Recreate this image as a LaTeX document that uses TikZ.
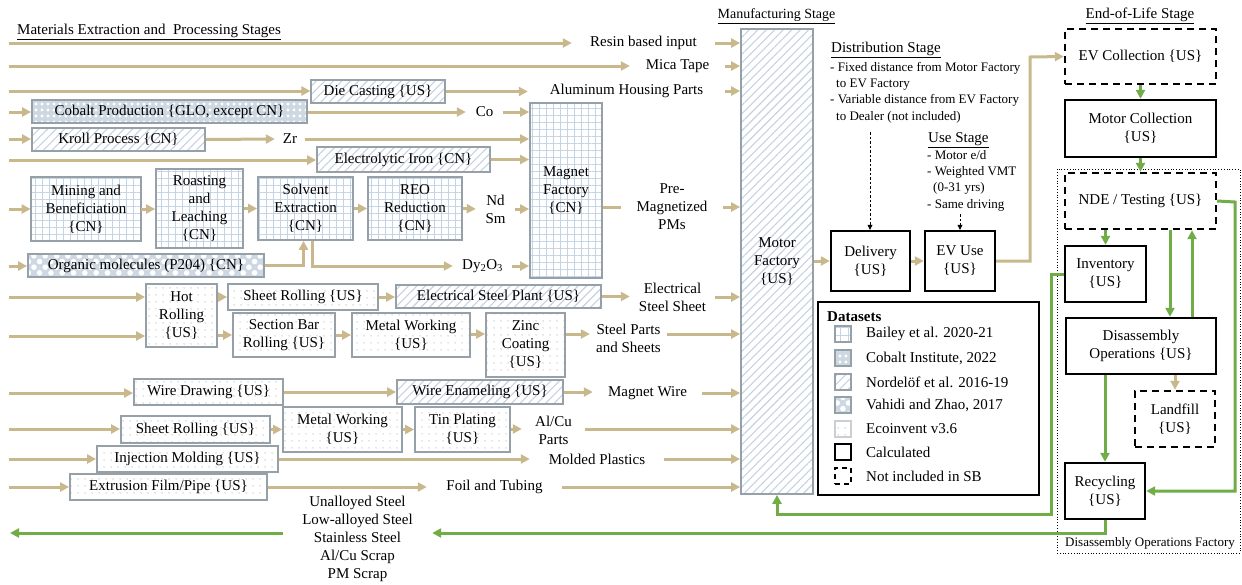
\documentclass[tikz,border=0pt]{standalone}
\usepackage{fontspec}
\setmainfont{Liberation Serif}
\usetikzlibrary{arrows.meta,patterns.meta,calc}
\definecolor{tanc}{RGB}{201,184,140}
\definecolor{grn}{RGB}{112,173,71}
\definecolor{bgray}{RGB}{150,160,168}
\definecolor{hatchc}{RGB}{196,210,224}
\definecolor{gridc}{RGB}{196,212,228}
\definecolor{dotc}{RGB}{150,150,150}
\definecolor{cobbg}{RGB}{206,216,226}
\tikzset{
  base/.style={font=\fontsize{15}{18}\selectfont, align=center, inner sep=0pt},
  small/.style={font=\fontsize{13}{16.3}\selectfont, inner sep=0pt},
  gbox/.style={base, draw=bgray, line width=1.8pt},
  hatchbox/.style={gbox, pattern={Lines[angle=45,distance=6pt,line width=1.1pt]}, pattern color=hatchc},
  gridbox/.style={gbox, pattern={Hatch[angle=0,distance=7pt,line width=0.7pt]}, pattern color=gridc},
  dotbox/.style={gbox, pattern={Dots[distance=6.5pt,radius=0.6pt]}, pattern color=dotc},
  cobbox/.style={gbox, preaction={fill=cobbg}, pattern={Dots[distance=6pt,radius=1.7pt]}, pattern color=white},
  vahbox/.style={gbox, preaction={fill=cobbg}, pattern={Dots[distance=8pt,radius=2.8pt,angle=45]}, pattern color=white},
  calcbox/.style={base, draw=black, line width=2.4pt},
  nibox/.style={base, draw=black, line width=2.4pt, dash pattern=on 7pt off 5pt},
  lbl/.style={base},
  tarr/.style={draw=tanc, line width=3pt, -{Triangle[length=9pt,width=9pt]}},
  tline/.style={draw=tanc, line width=3pt},
  garr/.style={draw=grn, line width=3pt, -{Triangle[length=9pt,width=9pt]}},
  gline/.style={draw=grn, line width=3pt},
  darr/.style={draw=black, line width=0.7pt, dash pattern=on 2.5pt off 2pt, -{Triangle[length=5pt,width=5pt]}},
  icon/.style={minimum width=16pt, minimum height=16pt, line width=1.5pt},
}
\begin{document}
\begin{tikzpicture}[x=1pt,y=-1pt]
\useasboundingbox (0,0) rectangle (1242,584);

% headers
\node[base, anchor=west] (h1) at (17,32) {\underline{Materials Extraction and\ \ Processing Stages}};
\node[base, font=\fontsize{14}{16}\selectfont] (h2) at (776.5,16) {\underline{Manufacturing Stage}};
\node[base] (h3) at (1140,16) {\underline{End-of-Life Stage}};

% left start coordinates
\coordinate (s1) at (9,43);
\coordinate (s2) at (9,66);
\coordinate (s3) at (9,91);
\coordinate (s4) at (9,112);
\coordinate (s5) at (9,139);
\coordinate (s6) at (9,160);
\coordinate (s7) at (9,209);
\coordinate (s8) at (9,266);
\coordinate (s9) at (9,297);
\coordinate (s10) at (9,336);
\coordinate (s11) at (9,393);
\coordinate (s12) at (9,429);
\coordinate (s13) at (9,459);
\coordinate (s14) at (9,487);
\coordinate (scrapend) at (10,533);

% boxes
\node[hatchbox, minimum width=134, minimum height=23] (diecast) at (378,91.5) {Die Casting \{US\}};
\node[cobbox, minimum width=275, minimum height=23] (cobalt) at (169.5,111.5) {Cobalt Production \{GLO, except CN\}};
\node[hatchbox, minimum width=173, minimum height=23] (kroll) at (118.5,139.5) {Kroll Process \{CN\}};
\node[hatchbox, minimum width=173, minimum height=25] (eleciron) at (403.5,159.5) {Electrolytic Iron \{CN\}};
\node[gridbox, minimum width=110, minimum height=64] (mining) at (86,209) {Mining and\\Beneficiation\\\{CN\}};
\node[gridbox, minimum width=87, minimum height=79] (roast) at (199.5,208.5) {Roasting\\and\\Leaching\\\{CN\}};
\node[gridbox, minimum width=95, minimum height=63] (solvent) at (305.5,208.5) {Solvent\\Extraction\\\{CN\}};
\node[gridbox, minimum width=94, minimum height=63] (reo) at (415,208.5) {REO\\Reduction\\\{CN\}};
\node[gridbox, minimum width=72, minimum height=175] (magnet) at (566,190.5) {Magnet\\Factory\\\{CN\}};
\node[vahbox, minimum width=236, minimum height=23] (organic) at (146,265.5) {Organic molecules (P204) \{CN\}};
\node[hatchbox, minimum width=72, minimum height=465] (motor) at (777,261.5) {Motor\\Factory\\\{US\}};
\node[dotbox, minimum width=71, minimum height=63] (hot) at (181.5,315.5) {Hot\\Rolling\\\{US\}};
\node[dotbox, minimum width=150, minimum height=26] (sheet1) at (303,297) {Sheet Rolling \{US\}};
\node[hatchbox, minimum width=205, minimum height=23] (elecsteel) at (498.5,296.5) {Electrical Steel Plant \{US\}};
\node[dotbox, minimum width=102, minimum height=44] (section) at (284,335) {Section Bar\\Rolling \{US\}};
\node[dotbox, minimum width=118, minimum height=44] (metal1) at (411,335) {Metal Working\\\{US\}};
\node[dotbox, minimum width=79, minimum height=64] (zinc) at (525.5,345) {Zinc\\Coating\\\{US\}};
\node[dotbox, minimum width=149, minimum height=26] (wiredraw) at (208.5,392) {Wire Drawing \{US\}};
\node[hatchbox, minimum width=166, minimum height=24] (wireenam) at (480,392) {Wire Enameling \{US\}};
\node[dotbox, minimum width=149, minimum height=27] (sheet2) at (195.5,429.5) {Sheet Rolling \{US\}};
\node[dotbox, minimum width=119, minimum height=45] (metal2) at (342.5,429.5) {Metal Working\\\{US\}};
\node[dotbox, minimum width=95, minimum height=45] (tin) at (462.5,429.5) {Tin Plating\\\{US\}};
\node[dotbox, minimum width=181, minimum height=26] (inject) at (187.5,459) {Injection Molding \{US\}};
\node[dotbox, minimum width=197, minimum height=26] (extr) at (168.5,487) {Extrusion Film/Pipe \{US\}};

% intermediate labels
\node[lbl, minimum width=143] (resin) at (643.5,43) {Resin based input};
\node[lbl, minimum width=95] (mica) at (677.5,66) {Mica Tape};
\node[lbl, minimum width=197] (alh) at (626.5,91) {Aluminum Housing Parts};
\node[lbl, minimum width=37] (co) at (484.5,112) {Co};
\node[lbl, minimum width=30] (zr) at (290,139) {Zr};
\node[lbl, minimum width=39] (ndsm) at (495.5,209) {Nd\\Sm};
\node[lbl, minimum width=59] (dy) at (482.5,266) {Dy\textsubscript{2}O\textsubscript{3}};
\node[lbl, minimum width=102] (premag) at (672,207) {Pre-\\Magnetized\\PMs};
\node[lbl, minimum width=85] (elecsheet) at (672.5,297) {Electrical\\Steel Sheet};
\node[lbl, minimum width=77] (steelp) at (628.5,338) {Steel Parts\\and Sheets};
\node[lbl, minimum width=109] (magwire) at (647.5,393) {Magnet Wire};
\node[lbl, minimum width=63] (alcu) at (553.5,430) {Al/Cu\\Parts};
\node[lbl, minimum width=134] (molded) at (597,459) {Molded Plastics};
\node[lbl, minimum width=135] (foil) at (494.5,487) {Foil and Tubing};
\node[lbl, minimum width=149] (scrap) at (357.5,538.5) {Unalloyed Steel\\Low-alloyed Steel\\Stainless Steel\\Al/Cu Scrap\\PM Scrap};
\coordinate (spw) at ([yshift=4pt]steelp.west);
\coordinate (spe) at ([yshift=4pt]steelp.east);
\coordinate (scrapE) at ([yshift=5.5pt]scrap.east);
\coordinate (scrapW) at ([yshift=5.5pt]scrap.west);

% tan flows - left part
\draw[tarr] (s1) -- (resin.west);
\draw[tarr] (resin.east) -- (resin.east -| motor.west);
\draw[tarr] (s2) -- (mica.west);
\draw[tarr] (mica.east) -- (mica.east -| motor.west);
\draw[tarr] (s3) -- (s3 -| diecast.west);
\draw[tarr] (diecast.east) -- (diecast.east -| alh.west);
\draw[tarr] (alh.east) -- (alh.east -| motor.west);
\draw[tarr] (s4) -- (s4 -| cobalt.west);
\draw[tarr] (cobalt.east |- co.west) -- (co.west);
\draw[tarr] (co.east) -- (co.east -| magnet.west);
\draw[tarr] (s5) -- (s5 -| kroll.west);
\draw[tarr] (kroll.east) -- (zr.west);
\draw[tarr] (zr.east) -- (zr.east -| magnet.west);
\draw[tarr] (s6) -- (s6 -| eleciron.west);
\draw[tarr] (eleciron.east) -- (eleciron.east -| magnet.west);
\draw[tarr] (s7) -- (s7 -| mining.west);
\draw[tarr] (mining.east) -- (mining.east -| roast.west);
\draw[tarr] (roast.east) -- (roast.east -| solvent.west);
\draw[tarr] (solvent.east) -- (reo.west);
\draw[tarr] (reo.east) -- (ndsm.west);
\draw[tarr] (ndsm.east) -- (ndsm.east -| magnet.west);
\draw[tarr] (s8) -- (s8 -| organic.west);
\draw[tarr] (organic.east) -| ([xshift=-2pt]solvent.south);
\draw[tarr] ([xshift=7pt]solvent.south) |- (dy.west);
\draw[tarr] (dy.east) -- (dy.east -| magnet.west);
\draw[tline] (magnet.east |- premag.west) -- (premag.west);
\draw[tarr] (premag.east) -- (premag.east -| motor.west);
\draw[tarr] (s9) -- (s9 -| hot.west);
\draw[tarr] (s10) -- (s10 -| hot.west);
\draw[tarr] (hot.east |- sheet1.west) -- (sheet1.west);
\draw[tarr] (hot.east |- section.west) -- (section.west);
\draw[tarr] (sheet1.east) -- (sheet1.east -| elecsteel.west);
\draw[tarr] (elecsteel.east) -- (elecsteel.east -| elecsheet.west);
\draw[tarr] (elecsheet.east) -- (elecsheet.east -| motor.west);
\draw[tarr] (section.east) -- (metal1.west);
\draw[tarr] (metal1.east |- spw) -- (spw -| zinc.west);
\draw[tarr] (zinc.east |- spw) -- (spw);
\draw[tarr] (spe) -- (spe -| motor.west);
\draw[tarr] (s11) -- (s11 -| wiredraw.west);
\draw[tarr] (wiredraw.east) -- (wireenam.west);
\draw[tarr] (wireenam.east) -- (wireenam.east -| magwire.west);
\draw[tarr] (magwire.east) -- (magwire.east -| motor.west);
\draw[tarr] (s12) -- (s12 -| sheet2.west);
\draw[tarr] (sheet2.east) -- (sheet2.east -| metal2.west);
\draw[tarr] (metal2.east) -- (tin.west);
\draw[tarr] (tin.east |- s12) -- (s12 -| alcu.west);
\draw[tarr] (s12 -| alcu.east) -- (s12 -| motor.west);
\draw[tarr] (s13) -- (s13 -| inject.west);
\draw[tarr] (inject.east) -- (inject.east -| molded.west);
\draw[tarr] (molded.east) -- (molded.east -| motor.west);
\draw[tarr] (s14) -- (s14 -| extr.west);
\draw[tarr] (extr.east) -- (extr.east -| foil.west);
\draw[tarr] (foil.east) -- (foil.east -| motor.west);

% distribution and use
\node[base, anchor=west] (dist) at (831,50) {\underline{Distribution Stage}};
\node[small, anchor=north west, align=left] (distb) at (830,62) {- Fixed distance from Motor Factory\\\hspace*{6pt}to EV Factory\\- Variable distance from EV Factory\\\hspace*{6pt}to Dealer (not included)};
\node[base, anchor=west] (use) at (928,140) {\underline{Use Stage}};
\node[small, anchor=north west, align=left] (useb) at (927,150) {- Motor e/d\\- Weighted VMT\\\hspace*{6pt}(0-31 yrs)\\- Same driving};
\node[calcbox, minimum width=79, minimum height=60] (delivery) at (870.5,261) {Delivery\\\{US\}};
\node[calcbox, minimum width=70, minimum height=60] (evuse) at (960,261) {EV Use\\\{US\}};
\coordinate (dd1) at (870,132);
\coordinate (dd2) at (960,214);
\draw[darr] (dd1) -- (dd1 |- delivery.north);
\draw[darr] (dd2) -- (dd2 |- evuse.north);
\draw[tarr] (motor.east |- delivery.west) -- (delivery.west);
\draw[tarr] (delivery.east) -- (evuse.west);

% end of life
\node[draw, dotted, line width=0.8pt, minimum width=183, minimum height=384, inner sep=0pt] (daf) at (1148.5,361) {};
\node[small, anchor=west] (daflbl) at (1065,543) {Disassembly Operations Factory};
\node[nibox, minimum width=151, minimum height=55] (evcoll) at (1140.5,56.5) {EV Collection \{US\}};
\node[calcbox, minimum width=151, minimum height=57] (motorcoll) at (1140.5,128.5) {Motor Collection\\\{US\}};
\node[nibox, minimum width=151, minimum height=56] (nde) at (1140.5,201) {NDE / Testing \{US\}};
\node[calcbox, minimum width=81, minimum height=56] (inventory) at (1105.5,274) {Inventory\\\{US\}};
\node[calcbox, minimum width=150, minimum height=56] (dis) at (1141,346) {Disassembly\\Operations \{US\}};
\node[nibox, minimum width=80, minimum height=56] (landfill) at (1175,419) {Landfill\\\{US\}};
\node[calcbox, minimum width=80, minimum height=56] (recyc) at (1105,491) {Recycling\\\{US\}};

\coordinate (t1) at (1030,57);
\draw[tarr] (evuse.east) -| (t1) -- (evcoll.west);
\draw[garr] (evcoll.south) -- (motorcoll.north);
\draw[garr] (motorcoll.south) -- (nde.north);
\draw[garr] (inventory.north |- nde.south) -- (inventory.north);
\coordinate (xa) at (1170,0);
\coordinate (xb) at (1192,0);
\draw[garr] (xa |- nde.south) -- (xa |- dis.north);
\draw[garr] (xb |- dis.north) -- (xb |- nde.south);
\draw[tarr] (landfill.north |- dis.south) -- (landfill.north);
\draw[garr] (recyc.north |- dis.south) -- (recyc.north);
\coordinate (g2) at (1235,202);
\draw[garr] (nde.east) -- (g2) |- (recyc.east);
\coordinate (g1) at (1051,514);
\draw[garr] (inventory.west) -| (g1) -| (motor.south);
\draw[garr] (recyc.south) |- (scrapE);
\draw[garr] (scrapW) -- (scrapend);

% legend
\node[calcbox, minimum width=221, minimum height=193] (legend) at (928.5,398.5) {};
\node[base, anchor=west] (lgt) at (827,317) {\textbf{Datasets}};
\node[gridbox, icon, pattern={Hatch[angle=0,distance=8pt,line width=1pt]}] (i1) at (843,334) {};
\node[cobbox, icon] (i2) at (843,358) {};
\node[hatchbox, icon] (i3) at (843,382) {};
\node[vahbox, icon] (i4) at (843,405) {};
\node[dotbox, icon, draw=bgray!50] (i5) at (843,429) {};
\node[calcbox, icon, line width=1.8pt] (i6) at (843,452) {};
\node[nibox, icon, line width=1.8pt, dash pattern=on 5pt off 4pt] (i7) at (843,476) {};
\node[base, anchor=west] (l1) at (866,334) {Bailey et al. 2020-21};
\node[base, anchor=west] (l2) at (866,358) {Cobalt Institute, 2022};
\node[base, anchor=west] (l3) at (866,382) {Nordelöf et al. 2016-19};
\node[base, anchor=west] (l4) at (866,405) {Vahidi and Zhao, 2017};
\node[base, anchor=west] (l5) at (866,429) {Ecoinvent v3.6};
\node[base, anchor=west] (l6) at (866,452) {Calculated};
\node[base, anchor=west] (l7) at (866,476) {Not included in SB};
\end{tikzpicture}
\end{document}
